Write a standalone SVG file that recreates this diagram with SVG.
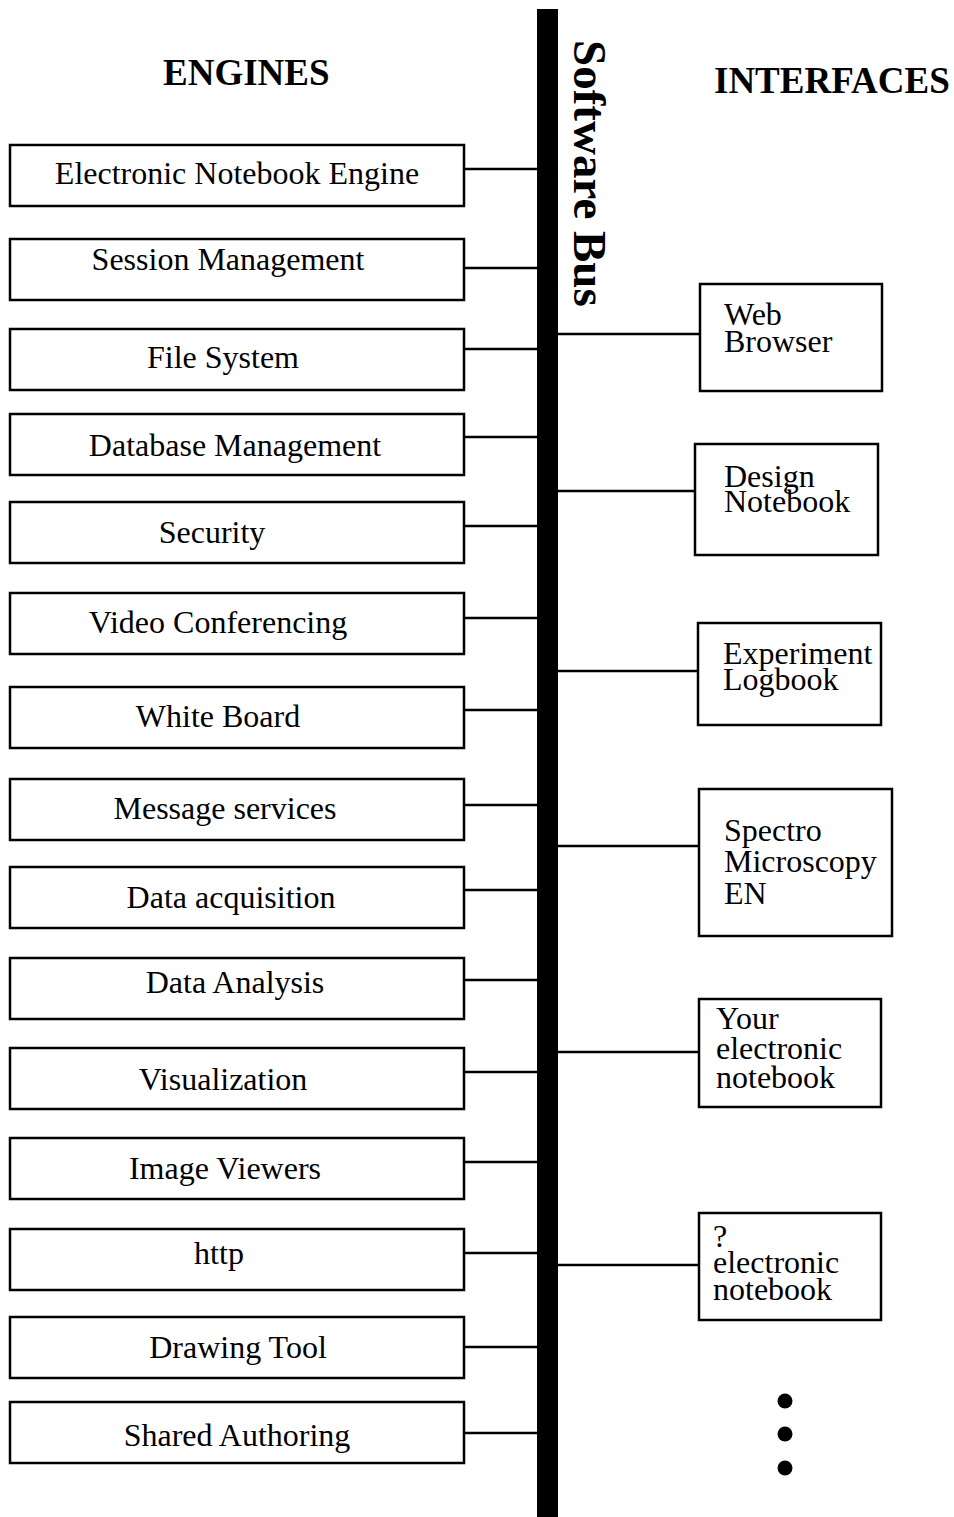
<svg xmlns="http://www.w3.org/2000/svg" width="954" height="1517" viewBox="0 0 954 1517">
  <style>
    .box { fill: #fff; stroke: #000; stroke-width: 2.5; }
    .wire { stroke: #000; stroke-width: 2.5; fill: none; }
    .lbl { font-family: "Liberation Serif", "Times New Roman", serif; font-size: 32px; fill: #000; }
    .mid { text-anchor: middle; }
    .head { font-family: "Liberation Serif", "Times New Roman", serif; font-weight: bold; font-size: 37px; fill: #000; }
  </style>

  <rect width="954" height="1517" fill="#fff"/>

  <!-- column headings -->
  <text class="head" x="163" y="85">ENGINES</text>
  <text class="head" x="714" y="93">INTERFACES</text>

  <!-- the bus itself -->
  <g id="bus">
    <rect x="537" y="9" width="21" height="1508" fill="#000"/>
    <text transform="translate(574,40) rotate(90)" font-family="Liberation Serif, Times New Roman, serif" font-weight="bold" font-size="47" fill="#000">Software Bus</text>
  </g>

  <!-- taps from each component onto the bus -->
  <g id="connectors" class="wire">
    <line x1="464" y1="169" x2="537" y2="169"/>
    <line x1="464" y1="268" x2="537" y2="268"/>
    <line x1="464" y1="349" x2="537" y2="349"/>
    <line x1="464" y1="437" x2="537" y2="437"/>
    <line x1="464" y1="526" x2="537" y2="526"/>
    <line x1="464" y1="618" x2="537" y2="618"/>
    <line x1="464" y1="710" x2="537" y2="710"/>
    <line x1="464" y1="805" x2="537" y2="805"/>
    <line x1="464" y1="890" x2="537" y2="890"/>
    <line x1="464" y1="980" x2="537" y2="980"/>
    <line x1="464" y1="1072" x2="537" y2="1072"/>
    <line x1="464" y1="1162" x2="537" y2="1162"/>
    <line x1="464" y1="1253" x2="537" y2="1253"/>
    <line x1="464" y1="1347" x2="537" y2="1347"/>
    <line x1="464" y1="1433" x2="537" y2="1433"/>

    <line x1="558" y1="334" x2="700" y2="334"/>
    <line x1="558" y1="491" x2="695" y2="491"/>
    <line x1="558" y1="671" x2="698" y2="671"/>
    <line x1="558" y1="846" x2="699" y2="846"/>
    <line x1="558" y1="1052" x2="699" y2="1052"/>
    <line x1="558" y1="1265" x2="699" y2="1265"/>
  </g>

  <!-- engines -->
  <g id="engine-notebook"><rect class="box" x="10" y="145" width="454" height="61"/><text class="lbl mid" x="237" y="184">Electronic Notebook Engine</text></g>
  <g id="engine-session"><rect class="box" x="10" y="239" width="454" height="61"/><text class="lbl mid" x="228" y="270">Session Management</text></g>
  <g id="engine-filesystem"><rect class="box" x="10" y="329" width="454" height="61"/><text class="lbl mid" x="223" y="368">File System</text></g>
  <g id="engine-database"><rect class="box" x="10" y="414" width="454" height="61"/><text class="lbl mid" x="235" y="456">Database Management</text></g>
  <g id="engine-security"><rect class="box" x="10" y="502" width="454" height="61"/><text class="lbl mid" x="212" y="543">Security</text></g>
  <g id="engine-video"><rect class="box" x="10" y="593" width="454" height="61"/><text class="lbl mid" x="218" y="633">Video Conferencing</text></g>
  <g id="engine-whiteboard"><rect class="box" x="10" y="687" width="454" height="61"/><text class="lbl mid" x="218" y="727">White Board</text></g>
  <g id="engine-message"><rect class="box" x="10" y="779" width="454" height="61"/><text class="lbl mid" x="225" y="819">Message services</text></g>
  <g id="engine-acquisition"><rect class="box" x="10" y="867" width="454" height="61"/><text class="lbl mid" x="231" y="908">Data acquisition</text></g>
  <g id="engine-analysis"><rect class="box" x="10" y="958" width="454" height="61"/><text class="lbl mid" x="235" y="993">Data Analysis</text></g>
  <g id="engine-visualization"><rect class="box" x="10" y="1048" width="454" height="61"/><text class="lbl mid" x="223" y="1090">Visualization</text></g>
  <g id="engine-imageviewers"><rect class="box" x="10" y="1138" width="454" height="61"/><text class="lbl mid" x="225" y="1179">Image Viewers</text></g>
  <g id="engine-http"><rect class="box" x="10" y="1229" width="454" height="61"/><text class="lbl mid" x="219" y="1264">http</text></g>
  <g id="engine-drawing"><rect class="box" x="10" y="1317" width="454" height="61"/><text class="lbl mid" x="238" y="1358">Drawing Tool</text></g>
  <g id="engine-authoring"><rect class="box" x="10" y="1402" width="454" height="61"/><text class="lbl mid" x="237" y="1446">Shared Authoring</text></g>

  <!-- interfaces -->
  <g id="iface-web"><rect class="box" x="700" y="284" width="182" height="107"/>
    <text class="lbl" x="724" y="325">Web</text><text class="lbl" x="724" y="352">Browser</text></g>
  <g id="iface-design"><rect class="box" x="695" y="444" width="183" height="111"/>
    <text class="lbl" x="724" y="487">Design</text><text class="lbl" x="724" y="512">Notebook</text></g>
  <g id="iface-experiment"><rect class="box" x="698" y="623" width="183" height="102"/>
    <text class="lbl" x="723" y="664">Experiment</text><text class="lbl" x="723" y="690">Logbook</text></g>
  <g id="iface-spectro"><rect class="box" x="699" y="789" width="193" height="147"/>
    <text class="lbl" x="724" y="841">Spectro</text><text class="lbl" x="724" y="872">Microscopy</text><text class="lbl" x="724" y="904">EN</text></g>
  <g id="iface-yours"><rect class="box" x="699" y="999" width="182" height="108"/>
    <text class="lbl" x="716" y="1029">Your</text><text class="lbl" x="716" y="1059">electronic</text><text class="lbl" x="716" y="1088">notebook</text></g>
  <g id="iface-unknown"><rect class="box" x="699" y="1213" width="182" height="107"/>
    <text class="lbl" x="713" y="1247">?</text><text class="lbl" x="713" y="1273">electronic</text><text class="lbl" x="713" y="1300">notebook</text></g>

  <!-- more to come -->
  <g id="ellipsis" fill="#000">
    <circle cx="785" cy="1401" r="7.5"/>
    <circle cx="785" cy="1434" r="7.5"/>
    <circle cx="785" cy="1468" r="7.5"/>
  </g>
</svg>
